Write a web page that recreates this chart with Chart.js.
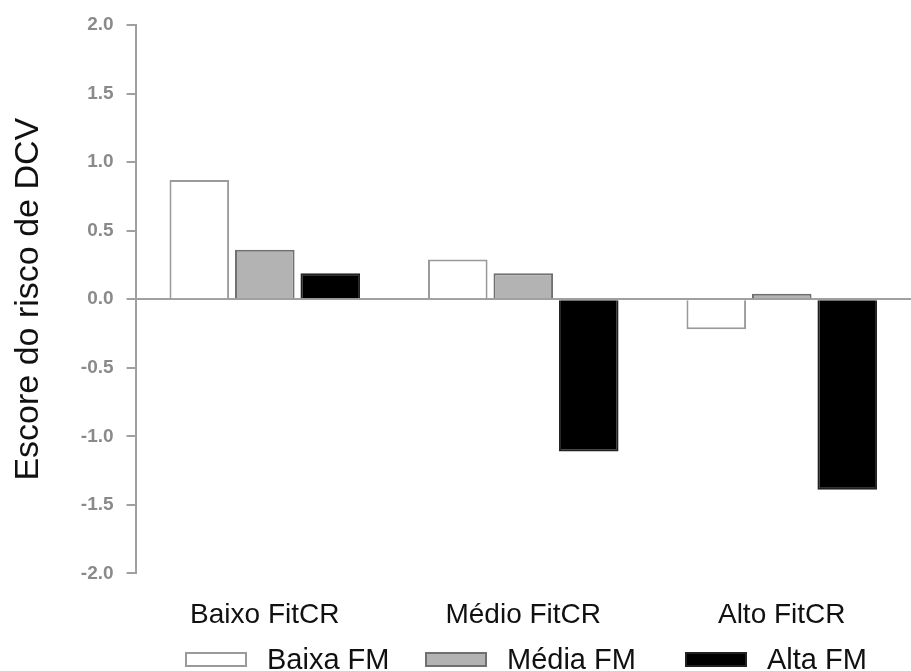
<!DOCTYPE html>
<html>
<head>
<meta charset="utf-8">
<script src="https://cdn.jsdelivr.net/npm/chart.js@4"></script>
<style>
  html, body { margin: 0; padding: 0; background: #fff; }
  #wrap { position: relative; width: 911px; height: 671px; }
  #legend { position: absolute; left: 185px; top: 642px; display: flex; align-items: center;
            font: 29px "Liberation Sans", Arial, sans-serif; line-height: 34px; color: #111; }
  .item { display: flex; align-items: center; }
  .item:nth-child(1) { width: 240px; }
  .item:nth-child(2) { width: 260px; }
  .box { width: 58px; height: 11px; border: 2px solid; margin-right: 20px; }
</style>
</head>
<body>
<div id="wrap">
  <canvas id="chart" width="911" height="671"></canvas>
  <div id="legend"></div>
</div>
<script>
const categories = ['Baixo FitCR', 'Médio FitCR', 'Alto FitCR'];
const seriesLabels = ['Baixa FM', 'Média FM', 'Alta FM'];
const baixaFM = [0.87, 0.29, -0.22];
const mediaFM = [0.36, 0.19, 0.04];
const altaFM = [0.19, -1.11, -1.39];
const yTicks = [-2, -1.5, -1, -0.5, 0, 0.5, 1, 1.5, 2];

const fills = ['#ffffff', '#b3b3b3', '#000000'];
const borders = ['#9a9a9a', '#707070', '#222222'];
const axisGray = '#a0a0a0';

const ctx = document.getElementById('chart');
const chart = new Chart(ctx, {
  type: 'bar',
  data: {
    labels: categories,
    datasets: [baixaFM, mediaFM, altaFM].map((d, i) => ({
      label: seriesLabels[i],
      data: d,
      backgroundColor: fills[i],
      borderColor: borders[i],
      borderWidth: 2,
      categoryPercentage: 0.76,
      barPercentage: 0.91,
    })),
  },
  options: {
    responsive: false,
    animation: false,
    layout: { padding: { top: 25, left: 0, right: 0, bottom: 14 } },
    plugins: {
      legend: { display: false },
      tooltip: { enabled: false },
    },
    scales: {
      x: {
        border: { display: false },
        grid: { display: false, drawTicks: false },
        ticks: {
          padding: 25,
          color: '#111',
          font: { family: '"Liberation Sans", Arial, sans-serif', size: 28 },
        },
      },
      y: {
        min: -2,
        max: 2,
        afterBuildTicks: (scale) => {
          scale.ticks = yTicks.map((v) => ({ value: v }));
        },
        border: { display: true, color: axisGray, width: 2 },
        grid: {
          color: (c) => (c.tick && c.tick.value === 0 ? axisGray : 'transparent'),
          lineWidth: 2,
          tickColor: axisGray,
          tickLength: 9,
        },
        ticks: {
          padding: 13,
          color: '#8a8a8a',
          font: { family: '"Liberation Sans", Arial, sans-serif', size: 19, weight: 'bold' },
          callback: (v) => Number(v).toFixed(1),
        },
        title: {
          display: true,
          text: 'Escore do risco de DCV',
          color: '#111',
          padding: { top: 8, bottom: 19 },
          font: { family: '"Liberation Sans", Arial, sans-serif', size: 34 },
        },
      },
    },
  },
});

// legend built from the datasets
const legend = document.getElementById('legend');
chart.data.datasets.forEach((ds) => {
  const item = document.createElement('div');
  item.className = 'item';
  const box = document.createElement('span');
  box.className = 'box';
  box.style.background = ds.backgroundColor;
  box.style.borderColor = ds.borderColor;
  const txt = document.createElement('span');
  txt.textContent = ds.label;
  item.appendChild(box);
  item.appendChild(txt);
  legend.appendChild(item);
});
</script>
</body>
</html>
